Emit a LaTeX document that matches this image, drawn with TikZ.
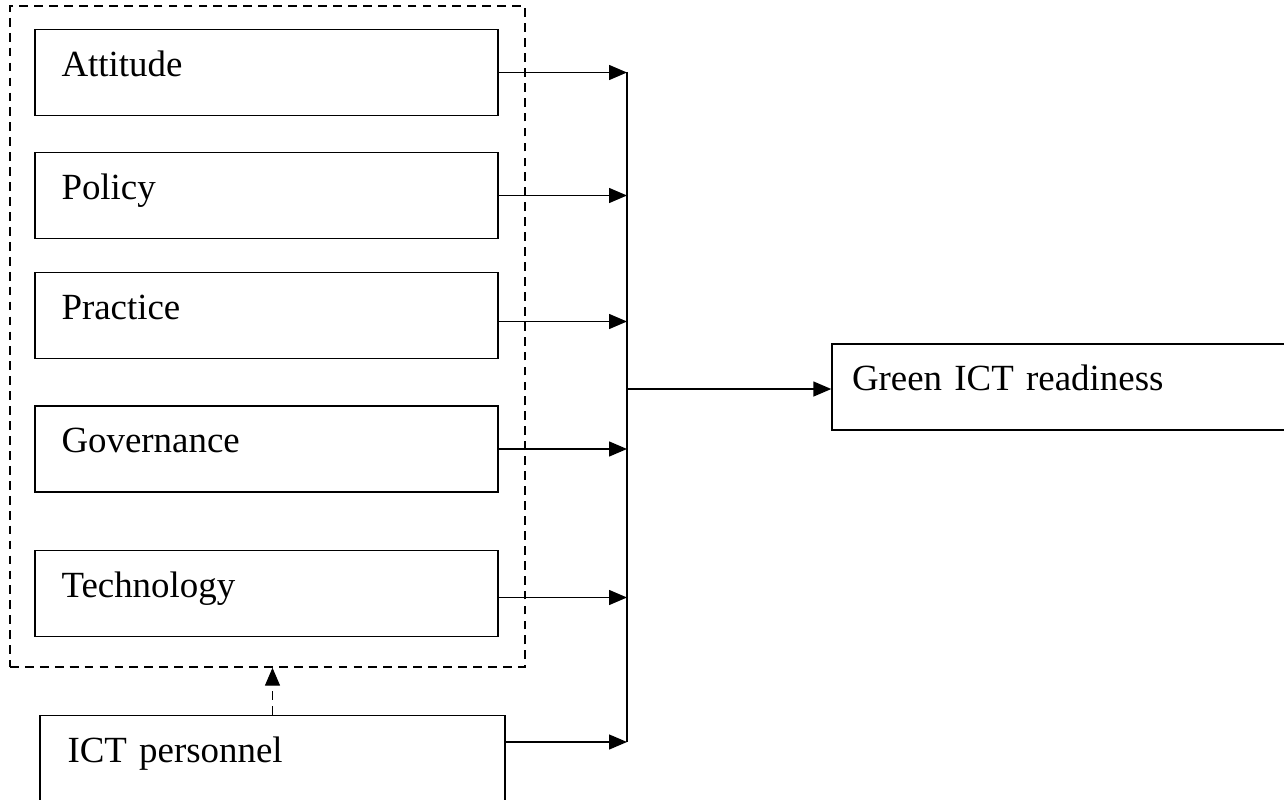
\documentclass[tikz,border=0pt]{standalone}
\usepackage{fontspec}
\setmainfont{Liberation Serif}
\usepackage{tikz}
\usetikzlibrary{arrows.meta}

\begin{document}
\begin{tikzpicture}[
    line width=0.8pt,
    every node/.style={
        font=\fontsize{21}{24}\selectfont
    },
    factor/.style={
        draw,
        rectangle,
        minimum width=9.26cm,
        minimum height=1.72cm,
        text width=8.2cm,
        align=left,
        text height=0.52cm,
        text depth=0.38cm
    },
    group/.style={
        draw,
        dash pattern=on 5pt off 3.5pt,
        minimum width=10.3cm,
        minimum height=13.22cm
    },
    flow/.style={
        -{Triangle[length=0.36cm,width=0.3cm]}
    }
]

\clip (0,0) rectangle (25.68,-15.98);

\node[group] (grp) at (5.35,-6.73) {};

\node[factor] (att) at (5.33,-1.45) {Attitude};
\node[factor] (pol) at (5.33,-3.91) {Policy};
\node[factor] (pra) at (5.33,-6.31) {Practice};
\node[factor] (gov) at (5.33,-8.98) {Governance};
\node[factor] (tec) at (5.33,-11.87) {Technology};

\node[factor, minimum width=9.3cm] (pers) at (5.45,-15.17) {ICT personnel};

\node[factor, minimum width=9.4cm, text width=8.6cm] (ready) at (21.34,-7.74) {Green ICT readiness};

\coordinate (bus top) at (12.54,-1.44);
\coordinate (bus bot) at (12.54,-14.84);
\coordinate (bus mid) at (12.54,-7.78);

\draw (bus top) -- (bus bot);

\draw[flow] (att.east) -- (att.east -| bus top);
\draw[flow] (pol.east) -- (pol.east -| bus top);
\draw[flow] ([yshift=-0.12cm]pra.east) -- ([yshift=-0.12cm]pra.east -| bus top);
\draw[flow] (gov.east) -- (gov.east -| bus top);
\draw[flow] ([yshift=-0.08cm]tec.east) -- ([yshift=-0.08cm]tec.east -| bus top);
\draw[flow] ([yshift=0.33cm]pers.east) -- ([yshift=0.33cm]pers.east -| bus top);

\draw[flow] (bus mid) -- (bus mid -| ready.west);

\draw[flow, dash pattern=on 5pt off 3.5pt] (pers.north) -- (pers.north |- grp.south);

\end{tikzpicture}
\end{document}
